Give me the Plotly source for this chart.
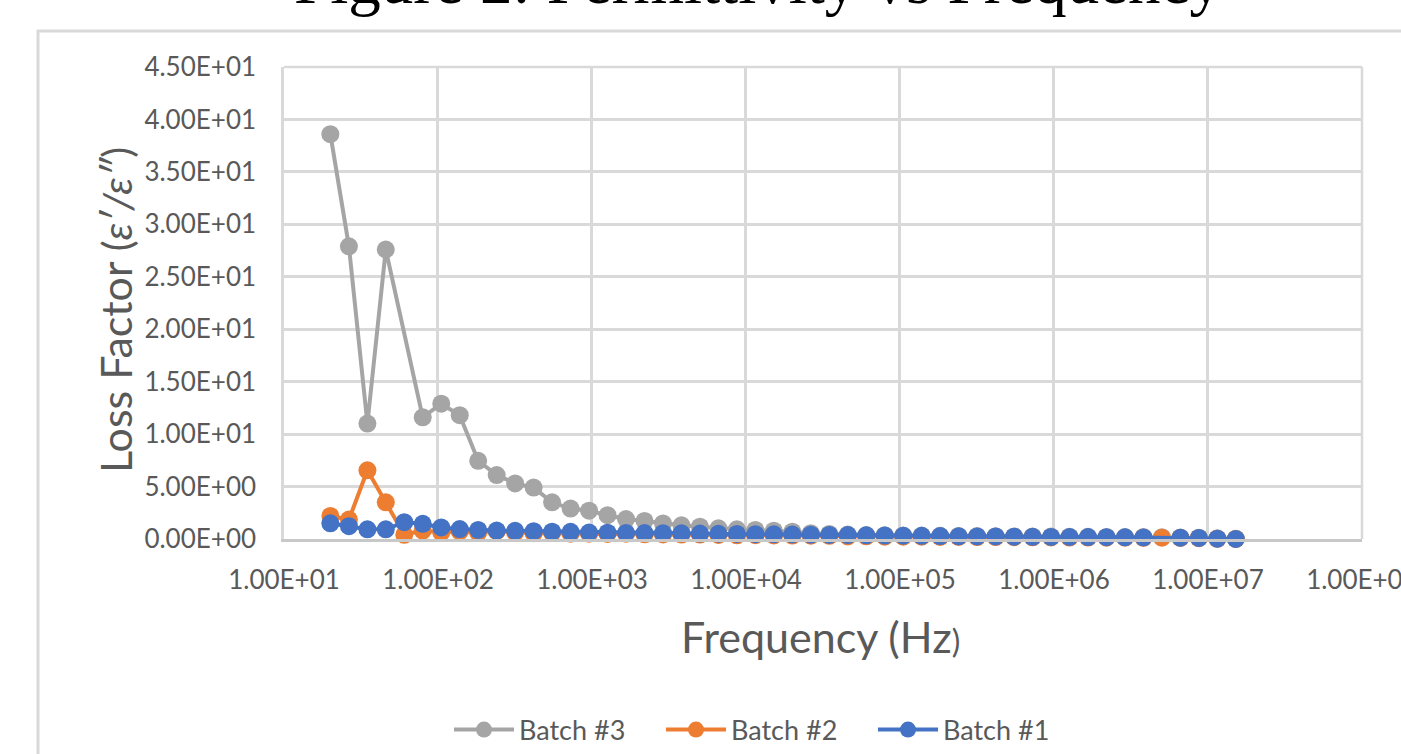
import plotly.graph_objects as go

# ---- data ----
freq_hz = [20, 26.4, 34.8, 45.8, 60.4, 79.6, 105, 138.4, 182.4, 240.5,
           317, 417.9, 550.9, 726.3, 957.5, 1262, 1664, 2194, 2892, 3813,
           5024, 6623, 8731, 11510, 15170, 20000, 26370, 34760, 45820, 60410,
           79620, 104970, 138380, 182430, 240500, 317000, 417900, 550900, 726300, 957500,
           1262000, 1664000, 2193000, 2892000, 3812000, 5024000, 6623000, 8731000, 11510000, 15170000]

batch3 = [38.6, 27.9, 11.0, 27.6, None, 11.6, 12.9, 11.8, 7.45, 6.1,
          5.3, 4.9, 3.5, 2.9, 2.7, 2.27, 1.9, 1.72, 1.48, 1.31,
          1.17, 1.02, 0.92, 0.86, 0.79, 0.70, 0.55, 0.48, 0.42, 0.38,
          0.36, 0.34, 0.33, 0.31, 0.29, 0.28, 0.27, 0.25, 0.24, 0.23,
          0.22, 0.21, 0.20, 0.19, 0.18, 0.17, 0.15, 0.13, 0.06, 0.03]

batch2 = [2.2, 1.85, 6.55, 3.5, 0.4, 0.8, 0.62, 0.72, 0.6, 0.75,
          0.62, 0.55, 0.58, 0.5, 0.5, 0.48, 0.5, 0.45, 0.44, 0.42,
          0.42, 0.38, 0.35, 0.36, 0.34, 0.33, 0.32, 0.3, 0.25, 0.26,
          0.22, 0.22, 0.22, 0.2, 0.2, 0.18, 0.18, 0.17, 0.16, 0.15,
          0.14, 0.14, 0.13, 0.12, 0.11, 0.12, 0.1, 0.08, 0.02, 0.0]

batch1 = [1.50, 1.22, 0.92, 0.92, 1.60, 1.45, 1.10, 0.95, 0.86, 0.80,
          0.78, 0.75, 0.70, 0.68, 0.62, 0.60, 0.58, 0.57, 0.55, 0.54,
          0.52, 0.50, 0.48, 0.46, 0.45, 0.43, 0.41, 0.39, 0.37, 0.35,
          0.33, 0.31, 0.30, 0.28, 0.26, 0.25, 0.24, 0.22, 0.21, 0.20,
          0.19, 0.18, 0.17, 0.16, 0.15, None, 0.12, 0.10, 0.03, 0.0]

series_names = ["Batch #3", "Batch #2", "Batch #1"]
series_colors = ["#A5A5A5", "#ED7D31", "#4472C4"]

x_tick_vals = [1e1, 1e2, 1e3, 1e4, 1e5, 1e6, 1e7, 1e8]
x_tick_text = ["1.00E+01", "1.00E+02", "1.00E+03", "1.00E+04",
               "1.00E+05", "1.00E+06", "1.00E+07", "1.00E+08"]
y_tick_vals = [0, 5, 10, 15, 20, 25, 30, 35, 40, 45]
y_tick_text = ["0.00E+00", "5.00E+00", "1.00E+01", "1.50E+01", "2.00E+01",
               "2.50E+01", "3.00E+01", "3.50E+01", "4.00E+01", "4.50E+01"]

title_text = "Figure 2: Permittivity vs Frequency"
x_title = "Frequency (Hz<span style=\"font-size:32px\">)</span>"
y_title = "Loss Factor <span style=\"font-size:41px\">(<i>ε′/ε″</i>)</span>"

# ---- figure ----
W, H = 1401, 754
ML, MR, MT, MB = 284, 39, 67, 215
PW, PH = W - ML - MR, H - MT - MB

def px_x(px):
    return (px - ML) / PW

def px_y(py):
    return (H - MB - py) / PH

fig = go.Figure()
for name, vals, col in zip(series_names, [batch3, batch2, batch1], series_colors):
    fig.add_trace(go.Scatter(
        x=freq_hz, y=vals, name=name, mode="lines+markers",
        line=dict(color=col, width=4),
        marker=dict(color=col, size=18),
        connectgaps=True, cliponaxis=False,
    ))

grid_col = "#D9D9D9"
tick_font = dict(family="Lato", size=26, color="#595959")

fig.update_layout(
    width=W, height=H,
    margin=dict(l=ML, r=MR, t=MT, b=MB, autoexpand=False),
    paper_bgcolor="white", plot_bgcolor="white",
    showlegend=True,
    legend=dict(orientation="h", x=px_x(449), y=px_y(730),
                xanchor="left", yanchor="middle",
                font=dict(family="Lato", size=27, color="#595959"),
                entrywidth=137, entrywidthmode="pixels",
                itemwidth=60, traceorder="normal", bgcolor="rgba(0,0,0,0)"),
    xaxis=dict(type="log", range=[1, 8.0004], tickvals=x_tick_vals, ticktext=x_tick_text,
               showgrid=True, gridcolor=grid_col, gridwidth=2.5,
               showline=True, linecolor="#C8C8C8", linewidth=2.5,
               ticks="", ticklabelstandoff=16, tickfont=tick_font, zeroline=False,
               ticklabeloverflow="allow"),
    yaxis=dict(range=[0, 45], tickvals=y_tick_vals, ticktext=y_tick_text,
               showgrid=True, gridcolor=grid_col, gridwidth=2.5,
               showline=True, linecolor=grid_col, linewidth=2.5,
               ticks="", ticklabelstandoff=20, tickfont=tick_font, zeroline=False),
    shapes=[
        dict(type="rect", xref="paper", yref="paper",
             x0=px_x(38), x1=px_x(1420), y0=px_y(780), y1=px_y(31),
             line=dict(color="#D9D9D9", width=3), fillcolor="rgba(0,0,0,0)",
             layer="below"),
        dict(type="line", xref="paper", yref="paper", x0=1, x1=1, y0=0, y1=1,
             line=dict(color=grid_col, width=2.5)),
        dict(type="line", xref="paper", yref="paper", x0=0, x1=1, y0=1, y1=1,
             line=dict(color=grid_col, width=2.5)),
    ],
    annotations=[
        dict(text=title_text, xref="paper", yref="paper", x=px_x(758), y=px_y(19),
             xanchor="center", yanchor="bottom", showarrow=False,
             font=dict(family="Liberation Serif", size=65, color="black")),
        dict(text=x_title, xref="paper", yref="paper", x=px_x(820), y=px_y(636),
             xanchor="center", yanchor="middle", showarrow=False,
             font=dict(family="Lato", size=43, color="#595959")),
        dict(text=y_title, xref="paper", yref="paper", x=px_x(115), y=px_y(310),
             xanchor="center", yanchor="middle", showarrow=False, textangle=-90,
             font=dict(family="Lato", size=43, color="#595959")),
    ],
)

fig.write_html("out.html")
